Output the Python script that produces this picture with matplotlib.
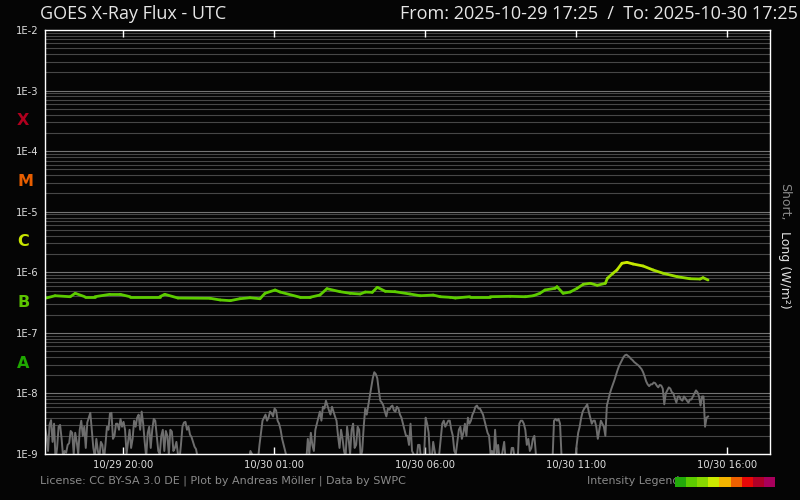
import numpy as np
import pandas as pd
import matplotlib
matplotlib.use("Agg")
import matplotlib.pyplot as plt
import matplotlib.dates as mdates
from matplotlib.collections import LineCollection
from matplotlib.colors import LinearSegmentedColormap
from matplotlib.patches import Rectangle
from matplotlib.ticker import FixedLocator, FuncFormatter, NullFormatter

# ---------------- texts ----------------
TITLE_LEFT = "GOES X-Ray Flux - UTC"
TITLE_RIGHT = "From: 2025-10-29 17:25  /  To: 2025-10-30 17:25"
FOOTER = "License: CC BY-SA 3.0 DE | Plot by Andreas Möller | Data by SWPC"
LEGEND_TEXT = "Intensity Legend"
RANGE_START = "2025-10-29 17:25"
RANGE_END = "2025-10-30 17:25"

# ---------------- data ----------------
long_times = [
    "2025-10-29 17:25", "2025-10-29 17:45", "2025-10-29 18:15", "2025-10-29 18:25",
    "2025-10-29 18:44", "2025-10-29 19:04", "2025-10-29 19:34", "2025-10-29 19:54",
    "2025-10-29 20:14", "2025-10-29 21:13", "2025-10-29 21:23", "2025-10-29 21:49",
    "2025-10-29 22:53", "2025-10-29 23:13", "2025-10-29 23:33", "2025-10-29 23:52",
    "2025-10-30 00:12", "2025-10-30 00:32", "2025-10-30 00:42", "2025-10-30 01:02",
    "2025-10-30 01:12", "2025-10-30 01:52", "2025-10-30 02:11", "2025-10-30 02:31",
    "2025-10-30 02:45", "2025-10-30 03:11", "2025-10-30 03:31", "2025-10-30 03:51",
    "2025-10-30 04:01", "2025-10-30 04:15", "2025-10-30 04:25", "2025-10-30 04:41",
    "2025-10-30 05:00", "2025-10-30 05:30", "2025-10-30 05:50", "2025-10-30 06:16",
    "2025-10-30 06:30", "2025-10-30 06:50", "2025-10-30 07:00", "2025-10-30 07:29",
    "2025-10-30 08:09", "2025-10-30 08:49", "2025-10-30 09:19", "2025-10-30 09:35",
    "2025-10-30 09:48", "2025-10-30 09:58", "2025-10-30 10:18", "2025-10-30 10:22",
    "2025-10-30 10:34", "2025-10-30 10:48", "2025-10-30 11:02", "2025-10-30 11:14",
    "2025-10-30 11:28", "2025-10-30 11:42", "2025-10-30 11:58", "2025-10-30 12:02",
    "2025-10-30 12:13", "2025-10-30 12:21", "2025-10-30 12:31", "2025-10-30 12:41",
    "2025-10-30 12:53", "2025-10-30 13:13", "2025-10-30 13:33", "2025-10-30 13:53",
    "2025-10-30 14:21", "2025-10-30 14:46", "2025-10-30 15:06", "2025-10-30 15:12",
    "2025-10-30 15:22",
]
long_flux = [
    3.72e-7, 4.10e-7, 3.95e-7, 4.50e-7,
    3.95e-7, 3.95e-7, 4.33e-7, 4.33e-7,
    3.95e-7, 3.95e-7, 4.33e-7, 3.76e-7,
    3.72e-7, 3.49e-7, 3.40e-7, 3.66e-7,
    3.80e-7, 3.66e-7, 4.50e-7, 5.10e-7,
    4.72e-7, 3.86e-7, 3.86e-7, 4.21e-7,
    5.36e-7, 4.78e-7, 4.50e-7, 4.38e-7,
    4.72e-7, 4.67e-7, 5.65e-7, 4.85e-7,
    4.78e-7, 4.38e-7, 4.10e-7, 4.21e-7,
    3.95e-7, 3.86e-7, 3.76e-7, 3.95e-7,
    3.95e-7, 4.01e-7, 3.95e-7, 4.10e-7,
    4.50e-7, 5.10e-7, 5.44e-7, 5.78e-7,
    4.50e-7, 4.72e-7, 5.44e-7, 6.33e-7,
    6.58e-7, 6.10e-7, 6.58e-7, 7.96e-7,
    9.62e-7, 1.09e-6, 1.41e-6, 1.46e-6,
    1.37e-6, 1.27e-6, 1.09e-6, 9.62e-7,
    8.45e-7, 7.83e-7, 7.74e-7, 8.14e-7,
    7.46e-7,
]

# short channel: one reading every 3 minutes from 17:25, log10(W/m^2); one row per hour
short_start = "2025-10-29 17:25"
short_step_minutes = 3
short_log_flux = [
    -8.55, -8.70, -8.95, -8.52, -8.44, -8.80, -8.50, -9.10, -8.90, -8.55, -8.52, -8.75, -9.05, -8.95, -8.98, -8.85, -8.82, -8.62, -8.65, -9.00,
    -8.65, -8.80, -9.00, -8.60, -8.45, -8.70, -8.55, -8.90, -8.48, -8.40, -8.32, -8.60, -8.90, -9.05, -8.75, -8.95, -9.05, -8.80, -8.85, -9.10,
    -8.85, -8.55, -8.60, -8.33, -8.32, -8.75, -8.70, -8.50, -8.50, -8.60, -8.42, -8.55, -8.47, -8.60, -9.00, -8.80, -8.60, -8.90, -8.75, -8.45,
    -8.55, -8.40, -8.35, -8.60, -8.30, -8.50, -8.80, -9.05, -8.65, -8.55, -8.90, -8.60, -8.42, -8.45, -8.70, -8.95, -9.00, -8.70, -8.60, -8.95,
    -8.62, -8.70, -9.00, -8.60, -8.63, -8.95, -8.90, -8.80, -9.00, -9.10, -8.85, -8.55, -8.48, -8.47, -8.60, -8.55, -8.68, -8.72, -8.80, -8.88,
    -8.92, -9.05, -9.10, -9.10, -9.10, -9.10, -9.10, -9.10, -9.10, -9.10, -9.10, -9.10, -9.10, -9.10, -9.10, -9.10, -9.10, -9.10, -9.10, -9.10,
    -9.10, -9.10, -9.10, -9.10, -9.10, -9.10, -9.10, -9.10, -9.10, -9.10, -9.10, -9.10, -9.10, -9.10, -9.10, -9.10, -8.95, -9.00, -9.10, -9.10,
    -9.10, -9.10, -8.85, -8.65, -8.45, -8.40, -8.35, -8.45, -8.40, -8.30, -8.33, -8.38, -8.25, -8.28, -8.45, -8.50, -8.60, -8.75, -8.85, -8.95,
    -9.05, -9.10, -9.10, -9.10, -9.10, -9.10, -9.10, -9.10, -9.10, -9.10, -9.10, -9.10, -9.10, -9.10, -8.75, -9.00, -8.65, -8.85, -8.95, -8.60,
    -8.50, -8.40, -8.30, -8.45, -8.22, -8.25, -8.12, -8.20, -8.28, -8.35, -8.22, -8.30, -8.38, -8.45, -8.70, -8.90, -8.60, -8.75, -8.95, -9.05,
    -8.55, -8.75, -9.00, -8.60, -8.50, -8.90, -8.85, -8.55, -8.60, -9.05, -8.95, -8.55, -8.25, -8.35, -8.20, -8.05, -7.90, -7.75, -7.65, -7.68,
    -7.75, -7.95, -8.12, -8.15, -8.20, -8.30, -8.38, -8.25, -8.27, -8.22, -8.20, -8.28, -8.30, -8.22, -8.25, -8.35, -8.40, -8.50, -8.60, -8.70,
    -8.70, -8.85, -8.50, -8.95, -9.00, -9.10, -9.10, -8.85, -8.85, -9.10, -9.10, -9.05, -8.40, -8.50, -8.65, -9.10, -9.10, -8.80, -8.95, -9.10,
    -9.10, -9.00, -8.75, -8.50, -8.45, -8.55, -8.50, -8.45, -8.45, -8.60, -8.70, -8.95, -9.00, -8.80, -8.60, -8.55, -8.75, -8.65, -8.50, -8.70,
    -8.40, -8.50, -8.45, -8.35, -8.30, -8.22, -8.20, -8.25, -8.25, -8.30, -8.35, -8.45, -8.55, -8.65, -8.70, -9.00, -8.95, -9.10, -8.60, -9.00,
    -8.85, -9.10, -9.10, -8.95, -8.80, -9.10, -9.05, -9.10, -9.10, -8.90, -8.90, -9.10, -9.10, -9.10, -8.50, -8.45, -8.45, -8.50, -8.60, -8.85,
    -8.75, -8.95, -8.90, -8.75, -8.70, -9.00, -9.10, -9.10, -9.10, -9.10, -9.10, -9.10, -9.10, -9.10, -9.10, -9.10, -9.10, -8.45, -8.42, -8.45,
    -8.42, -8.50, -9.05, -9.10, -9.10, -9.10, -9.10, -9.10, -9.10, -9.10, -9.10, -9.10, -8.85, -8.65, -8.55, -8.40, -8.30, -8.25, -8.22, -8.18,
    -8.30, -8.40, -8.50, -8.45, -8.45, -8.55, -8.75, -8.60, -8.45, -8.50, -8.55, -8.70, -8.20, -8.10, -8.00, -7.92, -7.85, -7.78, -7.70, -7.62,
    -7.55, -7.50, -7.45, -7.40, -7.37, -7.36, -7.38, -7.40, -7.43, -7.45, -7.48, -7.50, -7.52, -7.54, -7.57, -7.60, -7.65, -7.72, -7.80, -7.85,
    -7.88, -7.85, -7.85, -7.82, -7.83, -7.87, -7.90, -7.86, -7.87, -7.92, -8.18, -8.00, -7.95, -7.90, -7.92, -7.98, -8.00, -8.08, -8.15, -8.05,
    -8.05, -8.10, -8.12, -8.05, -8.08, -8.12, -8.15, -8.10, -8.10, -8.05, -8.00, -7.95, -7.98, -8.05, -8.20, -8.05, -8.05, -8.55, -8.40, -8.38,
]

x_tick_times = ["2025-10-29 20:00", "2025-10-30 01:00", "2025-10-30 06:00",
                "2025-10-30 11:00", "2025-10-30 16:00"]
y_decades = [-9, -8, -7, -6, -5, -4, -3, -2]
class_labels = ["A", "B", "C", "M", "X"]
class_centers = [-7.5, -6.5, -5.5, -4.5, -3.5]
class_colors = ["#1fa800", "#5cc400", "#c8e600", "#e85e00", "#b0001e"]
legend_colors = ["#22aa0a", "#5ccc00", "#88d800", "#ccea00", "#f4b400",
                 "#ee6000", "#e80808", "#b00028", "#a8005c"]

# ---------------- figure ----------------
BG = "#050505"
fig = plt.figure(figsize=(8, 5), dpi=100, facecolor=BG)
W, H = 800, 500
L, R, T, B = 45, 770, 30, 454
ax = fig.add_axes([L / W, 1 - B / H, (R - L) / W, (B - T) / H], facecolor=BG)

ax.set_yscale("log")
ax.set_ylim(10.0 ** y_decades[0], 10.0 ** y_decades[-1])
t0 = pd.Timestamp(RANGE_START)
t1 = pd.Timestamp(RANGE_END)
ax.set_xlim(t0, t1)

# horizontal grid
for d in y_decades[:-1]:
    for k in range(1, 10):
        v = k * 10.0 ** d
        ax.axhline(v, color="#747474" if k == 1 else "#474747",
                   lw=0.8, zorder=1)

# short channel
st = pd.date_range(pd.Timestamp(short_start), periods=len(short_log_flux),
                   freq=f"{short_step_minutes}min")
ax.plot(st, 10.0 ** np.array(short_log_flux), color="#6e6e6e", lw=1.4,
        zorder=3)

# long channel coloured by intensity
lt = mdates.date2num(pd.to_datetime(long_times))
lf = np.array(long_flux)
pts = np.column_stack([lt, lf])
segs = np.stack([pts[:-1], pts[1:]], axis=1)
cmap = LinearSegmentedColormap.from_list("lvl", ["#5ccc00", "#ccea00"])
mid = (np.log10(lf[:-1]) + np.log10(lf[1:])) / 2
cvals = np.clip((mid + 6.3) / 0.45, 0, 1)
lc = LineCollection(segs, colors=cmap(cvals), linewidths=2.0, zorder=4,
                    capstyle="round", joinstyle="round")
ax.add_collection(lc)

# spines
for s in ax.spines.values():
    s.set_color("white")
    s.set_linewidth(1.0)
    s.set_zorder(6)

# x ticks
ax.xaxis.set_major_locator(FixedLocator(mdates.date2num(pd.to_datetime(x_tick_times))))
ax.xaxis.set_major_formatter(mdates.DateFormatter("%m/%d %H:%M"))
ax.xaxis.set_minor_formatter(NullFormatter())
ax.tick_params(axis="x", which="major", direction="in", length=5, width=1,
               color="white", top=True, bottom=True, labelsize=7.2,
               labelcolor="#dddddd", pad=4)
ax.tick_params(axis="x", which="minor", length=0)

# y ticks
ax.yaxis.set_major_locator(FixedLocator([10.0 ** d for d in y_decades]))
ax.yaxis.set_minor_locator(FixedLocator([]))
ax.yaxis.set_major_formatter(FuncFormatter(lambda v, p: f"1E{int(round(np.log10(v)))}"))
ax.tick_params(axis="y", which="both", length=0, labelsize=7.2,
               labelcolor="#dddddd", pad=5)

# class letters
ytr = ax.get_yaxis_transform()
for lab, c, col in zip(class_labels, class_centers, class_colors):
    ax.text(-0.0386, 10.0 ** c, lab, transform=ytr, ha="left", va="center",
            color=col, fontsize=11.5, fontweight="bold", family="DejaVu Sans")

# titles
fig.text(40 / W, 1 - 14 / H, TITLE_LEFT, ha="left", va="center",
         color="#e6e6e6", fontsize=13, family="Open Sans")
fig.text(798 / W, 1 - 14 / H, TITLE_RIGHT, ha="right", va="center",
         color="#e6e6e6", fontsize=13, family="Open Sans")

# right axis label (two colours)
fig.text(785 / W, 1 - 183 / H, "Short,", rotation=-90, ha="center", va="top",
         color="#8a8a8a", fontsize=9, family="DejaVu Sans")
fig.text(785 / W, 1 - 231 / H, "Long (W/m²)", rotation=-90, ha="center", va="top",
         color="#e0e0e0", fontsize=9, family="DejaVu Sans")

# footer
fig.text(40 / W, 1 - 481 / H, FOOTER, ha="left", va="center",
         color="#8a8a8a", fontsize=8, family="DejaVu Sans")
fig.text(587 / W, 1 - 481 / H, LEGEND_TEXT, ha="left", va="center",
         color="#8a8a8a", fontsize=7.9, family="DejaVu Sans")
bw = 100 / len(legend_colors)
for i, col in enumerate(legend_colors):
    fig.patches.append(Rectangle(((675 + i * bw) / W, 1 - 487 / H), bw / W, 10 / H,
                                 transform=fig.transFigure, facecolor=col,
                                 edgecolor="none", zorder=5))

fig.savefig("out.png", dpi=100, facecolor=BG)
